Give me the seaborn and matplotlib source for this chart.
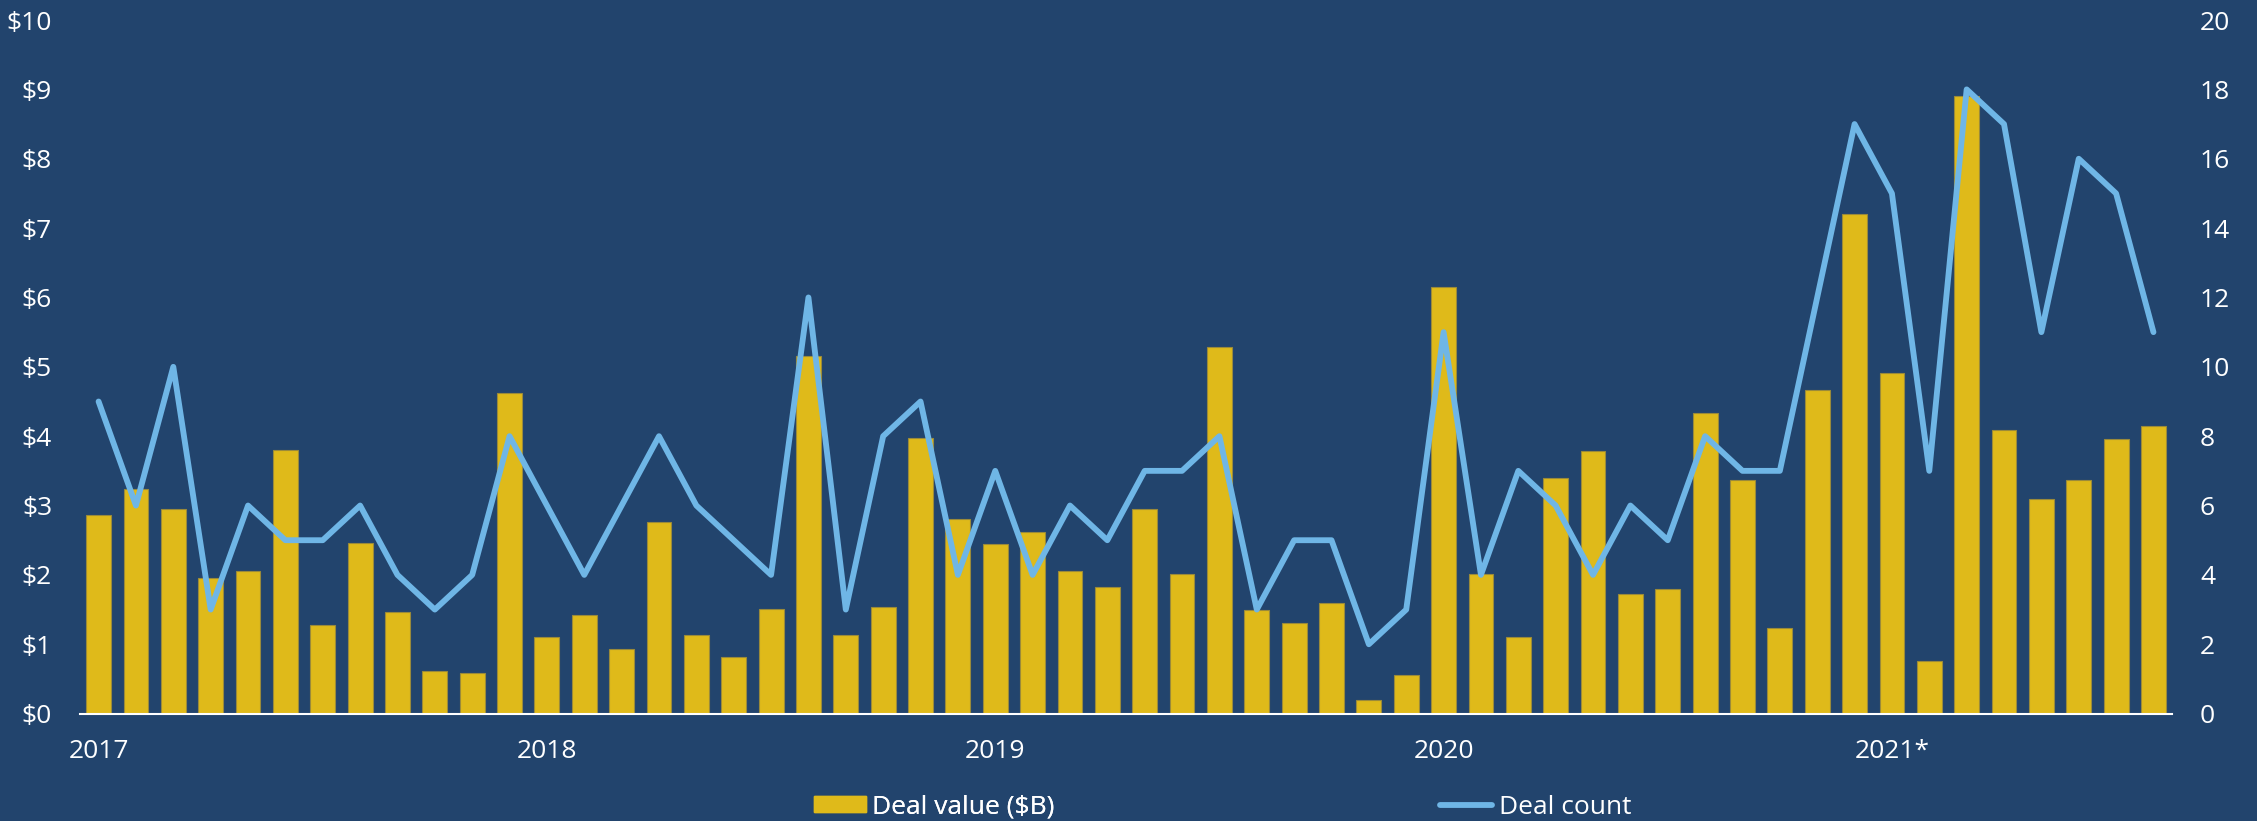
import matplotlib
matplotlib.use("Agg")
import matplotlib.pyplot as plt
import seaborn as sns
import numpy as np
import pandas as pd
from matplotlib.patches import Patch
from matplotlib.lines import Line2D

# ---- data ----
deal_value = [
    2.87, 3.24, 2.95, 1.96, 2.05, 3.80, 1.28, 2.46, 1.47, 0.62, 0.59, 4.62,   # 2017
    1.11, 1.42, 0.93, 2.76, 1.14, 0.81, 1.51, 5.15, 1.13, 1.53, 3.98, 2.81,   # 2018
    2.45, 2.62, 2.05, 1.83, 2.95, 2.02, 5.28, 1.49, 1.30, 1.60, 0.20, 0.55,   # 2019
    6.15, 2.01, 1.11, 3.40, 3.79, 1.72, 1.79, 4.34, 3.37, 1.23, 4.66, 7.20,   # 2020
    4.91, 0.76, 8.90, 4.09, 3.09, 3.37, 3.96, 4.14,                           # 2021
]
deal_count = [
    9, 6, 10, 3, 6, 5, 5, 6, 4, 3, 4, 8,
    6, 4, 6, 8, 6, 5, 4, 12, 3, 8, 9, 4,
    7, 4, 6, 5, 7, 7, 8, 3, 5, 5, 2, 3,
    11, 4, 7, 6, 4, 6, 5, 8, 7, 7, 12, 17,
    15, 7, 18, 17, 11, 16, 15, 11,
]
year_labels = ["2017", "2018", "2019", "2020", "2021*"]
left_ticks = [0, 1, 2, 3, 4, 5, 6, 7, 8, 9, 10]
right_ticks = [0, 2, 4, 6, 8, 10, 12, 14, 16, 18, 20]
legend_labels = ["Deal value ($B)", "Deal count"]

BG = "#22446D"
GOLD = "#DFBA1A"
BLUE = "#6FB6E6"
FONT = "Open Sans"
FS = 19

sns.set_theme(style="white")
plt.rcParams["font.family"] = [FONT, "DejaVu Sans"]

df = pd.DataFrame({"i": np.arange(len(deal_value)), "value": deal_value, "count": deal_count})

fig = plt.figure(figsize=(22.57, 8.21), dpi=100, facecolor=BG)
ax = fig.add_axes([0.0354, 0.1308, 0.927, 0.8448])
ax.set_facecolor(BG)

sns.barplot(data=df, x="i", y="value", color=GOLD, width=0.665, ax=ax,
            saturation=1, edgecolor="#9a8a3a", linewidth=0.8)

ax2 = ax.twinx()
sns.lineplot(data=df, x="i", y="count", color=BLUE, linewidth=4.2, ax=ax2,
             solid_joinstyle="round", solid_capstyle="round")

ax.set_xlim(-0.5, len(deal_value) - 0.5)
ax.set_ylim(0, 10)
ax2.set_ylim(0, 20)

ax.set_yticks(left_ticks)
ax.set_yticklabels([f"${t}" for t in left_ticks])
ax2.set_yticks(right_ticks)
ax2.set_yticklabels([str(t) for t in right_ticks])
ax.set_xticks([0, 12, 24, 36, 48])
ax.set_xticklabels(year_labels)

for a in (ax, ax2):
    a.set_xlabel("")
    a.set_ylabel("")
    for s in ("top", "left", "right", "bottom"):
        a.spines[s].set_visible(False)
    a.grid(False)
ax.spines["bottom"].set_visible(True)
ax.spines["bottom"].set_color("white")
ax.spines["bottom"].set_linewidth(1.5)

ax.tick_params(axis="y", colors="white", labelsize=FS, length=0, pad=20)
ax.tick_params(axis="x", colors="white", labelsize=FS, length=0, pad=18)
ax2.tick_params(axis="y", colors="white", labelsize=FS, length=0, pad=20)

h1 = Patch(facecolor=GOLD, edgecolor=GOLD)
h2 = Line2D([0], [0], color=BLUE, linewidth=4.2, solid_capstyle="round")
common = dict(loc="center left", frameon=False, fontsize=FS, labelcolor="white",
              handlelength=1.97, handleheight=0.57, handletextpad=0.25)
leg1 = fig.legend([h1], [legend_labels[0]], bbox_to_anchor=(0.3500, 0.017), **common)
fig.add_artist(leg1)
leg2 = fig.legend([h2], [legend_labels[1]], bbox_to_anchor=(0.6276, 0.017), **common)

fig.savefig("out.png", dpi=100, facecolor=BG)
